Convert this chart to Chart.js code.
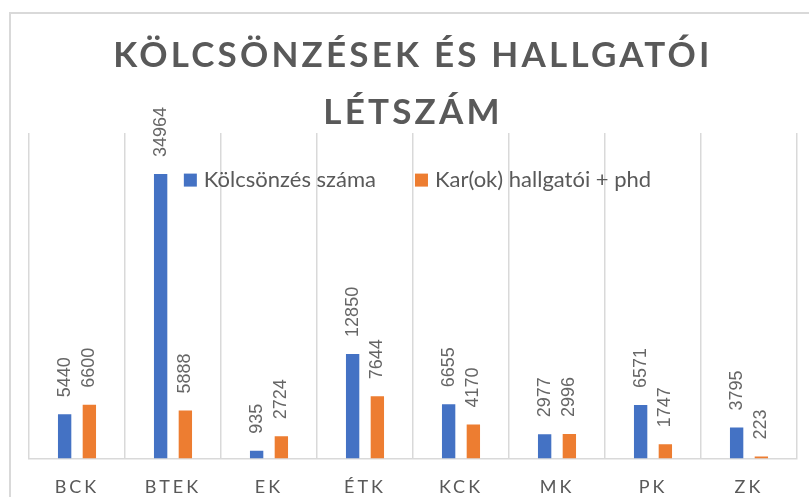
<!DOCTYPE html>
<html lang="hu">
<head>
<meta charset="utf-8">
<title>Kölcsönzések és hallgatói létszám</title>
<script src="https://cdn.jsdelivr.net/npm/chart.js@4/dist/chart.umd.min.js"></script>
<style>
  html, body { margin: 0; background: #fff; }
  #wrap { position: relative; width: 809px; height: 497px; overflow: hidden; }
  #frame { position: absolute; left: 9px; top: 12px; width: 900px; height: 600px; border: 2px solid #d9d9d9; }
  canvas { position: relative; }
</style>
</head>
<body>
<div id="wrap"><div id="frame"></div><canvas id="chart"></canvas></div>
<script>
const categories = ['BCK', 'BTEK', 'EK', 'ÉTK', 'KCK', 'MK', 'PK', 'ZK'];
const loans = [5440, 34964, 935, 12850, 6655, 2977, 6571, 3795];
const students = [6600, 5888, 2724, 7644, 4170, 2996, 1747, 223];
const seriesNames = ['Kölcsönzés száma', 'Kar(ok) hallgatói + phd'];
const titleLines = ['KÖLCSÖNZÉSEK ÉS HALLGATÓI', 'LÉTSZÁM'];

Chart.defaults.font.family = 'Lato';

// Excel-style letter spacing: wrap a draw method so its text is spaced out
function spaced(obj, method, spacing) {
    if (!obj || obj['_spaced_' + method]) return;
    const orig = obj[method];
    obj[method] = function (...args) {
        const ctx = this.ctx;
        ctx.save();
        ctx.letterSpacing = spacing;
        orig.apply(this, args);
        ctx.restore();
    };
    obj['_spaced_' + method] = true;
}

const letterSpacing = {
    id: 'letterSpacing',
    beforeDraw(chart) {
        spaced(chart.titleBlock, 'draw', '3.2px');
        spaced(chart.scales.x, 'drawLabels', '3px');
    }
};

// Rotated value labels above each bar
const barValues = {
    id: 'barValues',
    afterDatasetsDraw(chart) {
        const ctx = chart.ctx;
        ctx.save();
        ctx.font = '18px "Liberation Sans"';
        ctx.fillStyle = '#666666';
        ctx.textAlign = 'left';
        ctx.textBaseline = 'middle';
        chart.data.datasets.forEach((ds, i) => {
            chart.getDatasetMeta(i).data.forEach((bar, j) => {
                ctx.save();
                ctx.translate(bar.x, bar.y - 17);
                ctx.rotate(-Math.PI / 2);
                ctx.fillText(String(ds.data[j]), 0, 0);
                ctx.restore();
            });
        });
        ctx.restore();
    }
};

// Legend drawn inside the plot area, like the Excel original
const insideLegend = {
    id: 'insideLegend',
    afterDatasetsDraw(chart) {
        const {ctx, chartArea} = chart;
        ctx.save();
        ctx.font = '22px Lato';
        ctx.textBaseline = 'middle';
        const items = chart.data.datasets.map(ds => ({
            label: ds.label,
            color: ds.backgroundColor,
            w: 20 + ctx.measureText(ds.label).width
        }));
        const gap = 39;
        const total = items.reduce((s, it) => s + it.w, 0) + gap * (items.length - 1);
        let x = (chartArea.left + chartArea.right) / 2 + 4.5 - total / 2;
        const y = chartArea.top + 47;
        items.forEach(it => {
            ctx.fillStyle = it.color;
            ctx.fillRect(x, y - 6.5, 13, 13);
            ctx.fillStyle = '#595959';
            ctx.fillText(it.label, x + 20, y);
            x += it.w + gap;
        });
        ctx.restore();
    }
};

new Chart(document.getElementById('chart'), {
    type: 'bar',
    data: {
        labels: categories,
        datasets: [
            { label: seriesNames[0], data: loans, backgroundColor: '#4472C4' },
            { label: seriesNames[1], data: students, backgroundColor: '#ED7D31' }
        ]
    },
    options: {
        responsive: true,
        maintainAspectRatio: false,
        animation: false,
        datasets: {
            bar: { categoryPercentage: 0.515, barPercentage: 0.54, borderWidth: 0 }
        },
        layout: { padding: { left: 29, right: 12, top: 0, bottom: -19 } },
        scales: {
            x: {
                grid: { offset: true, color: '#d9d9d9', lineWidth: 1.5, drawTicks: false },
                border: { display: true, color: '#d9d9d9', width: 1.5 },
                ticks: {
                    color: '#595959',
                    font: { family: 'Lato', size: 18 },
                    padding: 18,
                    maxRotation: 0,
                    autoSkip: false
                }
            },
            y: { display: false, min: 0, max: 40000 }
        },
        plugins: {
            legend: { display: false },
            tooltip: { enabled: false },
            title: {
                display: true,
                text: titleLines,
                color: '#595959',
                font: { family: 'Lato', size: 35, weight: 'bold', lineHeight: 1.63 },
                padding: { top: 27, bottom: -8 }
            }
        }
    },
    plugins: [letterSpacing, barValues, insideLegend]
});
</script>
</body>
</html>
